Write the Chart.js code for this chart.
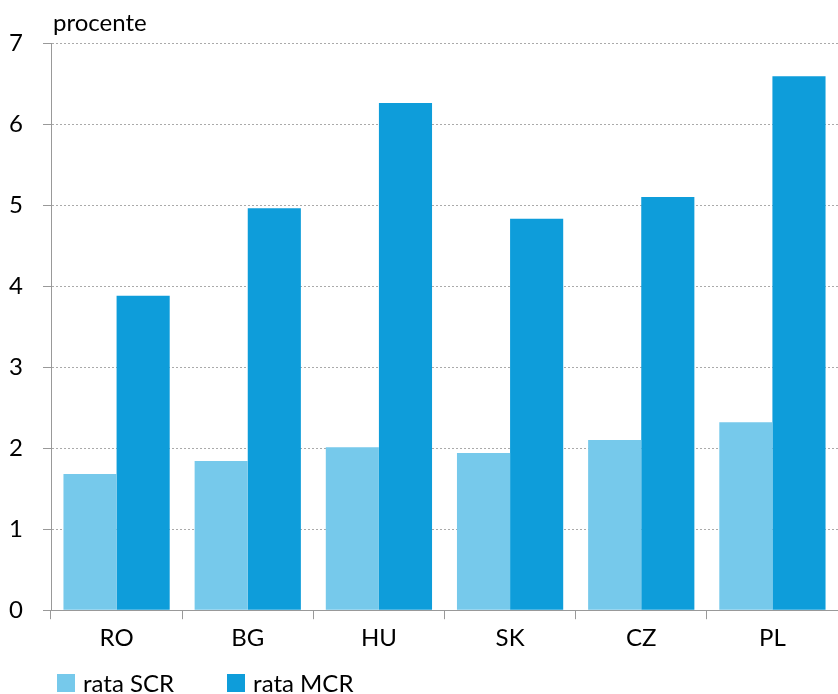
<!DOCTYPE html>
<html>
<head>
<meta charset="utf-8">
<script src="https://cdn.jsdelivr.net/npm/chart.js@4/dist/chart.umd.min.js"></script>
<style>
  html, body { margin: 0; padding: 0; background: #fff; }
  #wrap { width: 838px; height: 694px; position: relative; }
  #legend { position: absolute; left: 57px; top: 670px; display: flex; font: 24px Lato, "Open Sans", sans-serif; color: #000; line-height: 26px; }
  #legend span.item { display: flex; align-items: center; margin-right: 53px; }
  #legend span.box { width: 18px; height: 18px; margin-right: 8px; display: inline-block; }
</style>
</head>
<body>
<div id="wrap"><canvas id="chart"></canvas><div id="legend"></div></div>
<script>
// data
const categories = ['RO', 'BG', 'HU', 'SK', 'CZ', 'PL'];
const rataSCR = [1.68, 1.84, 2.01, 1.94, 2.10, 2.32];
const rataMCR = [3.88, 4.96, 6.26, 4.83, 5.10, 6.59];
const yTicks = [0, 1, 2, 3, 4, 5, 6, 7];

const FONT = 'Lato, "Open Sans", sans-serif';

// "procente" label over the y axis
const unitLabel = {
    id: 'unitLabel',
    afterDraw(chart) {
        const ctx = chart.ctx;
        const area = chart.chartArea;
        ctx.save();
        ctx.font = '24px ' + FONT;
        ctx.fillStyle = '#000';
        ctx.textBaseline = 'alphabetic';
        ctx.fillText('procente', area.left + 2, area.top - 12);
        ctx.restore();
    }
};

const chart = new Chart(document.getElementById('chart'), {
    type: 'bar',
    data: {
        labels: categories,
        datasets: [
            { label: 'rata SCR', data: rataSCR, backgroundColor: '#76C9EB' },
            { label: 'rata MCR', data: rataMCR, backgroundColor: '#0E9DDA' }
        ]
    },
    options: {
        responsive: true,
        maintainAspectRatio: false,
        animation: false,
        layout: { padding: { top: 43, left: 9, right: 0, bottom: 36 } },
        datasets: { bar: { categoryPercentage: 0.81, barPercentage: 1.0 } },
        plugins: {
            tooltip: { enabled: false },
            legend: { display: false }
        },
        scales: {
            x: {
                grid: {
                    offset: true,
                    drawOnChartArea: false,
                    tickLength: 9,
                    color: '#999'
                },
                border: { color: '#999' },
                ticks: {
                    font: { family: FONT, size: 24 },
                    color: '#000',
                    padding: 5
                }
            },
            y: {
                min: 0,
                max: 7,
                afterBuildTicks(axis) {
                    axis.ticks = yTicks.map(v => ({ value: v }));
                },
                afterFit(axis) {
                    axis.width = 42;
                },
                grid: {
                    color: '#aaa',
                    lineWidth: 1,
                    tickLength: 8,
                    tickColor: '#999',
                    tickBorderDash: []
                },
                border: { color: '#999', dash: [2, 2] },
                ticks: {
                    font: { family: FONT, size: 24 },
                    color: '#000',
                    padding: 20
                }
            }
        }
    },
    plugins: [unitLabel]
});

// legend below the chart, built from the datasets
const legend = document.getElementById('legend');
chart.data.datasets.forEach(ds => {
    const item = document.createElement('span');
    item.className = 'item';
    const box = document.createElement('span');
    box.className = 'box';
    box.style.background = ds.backgroundColor;
    item.appendChild(box);
    item.appendChild(document.createTextNode(ds.label));
    legend.appendChild(item);
});
</script>
</body>
</html>
